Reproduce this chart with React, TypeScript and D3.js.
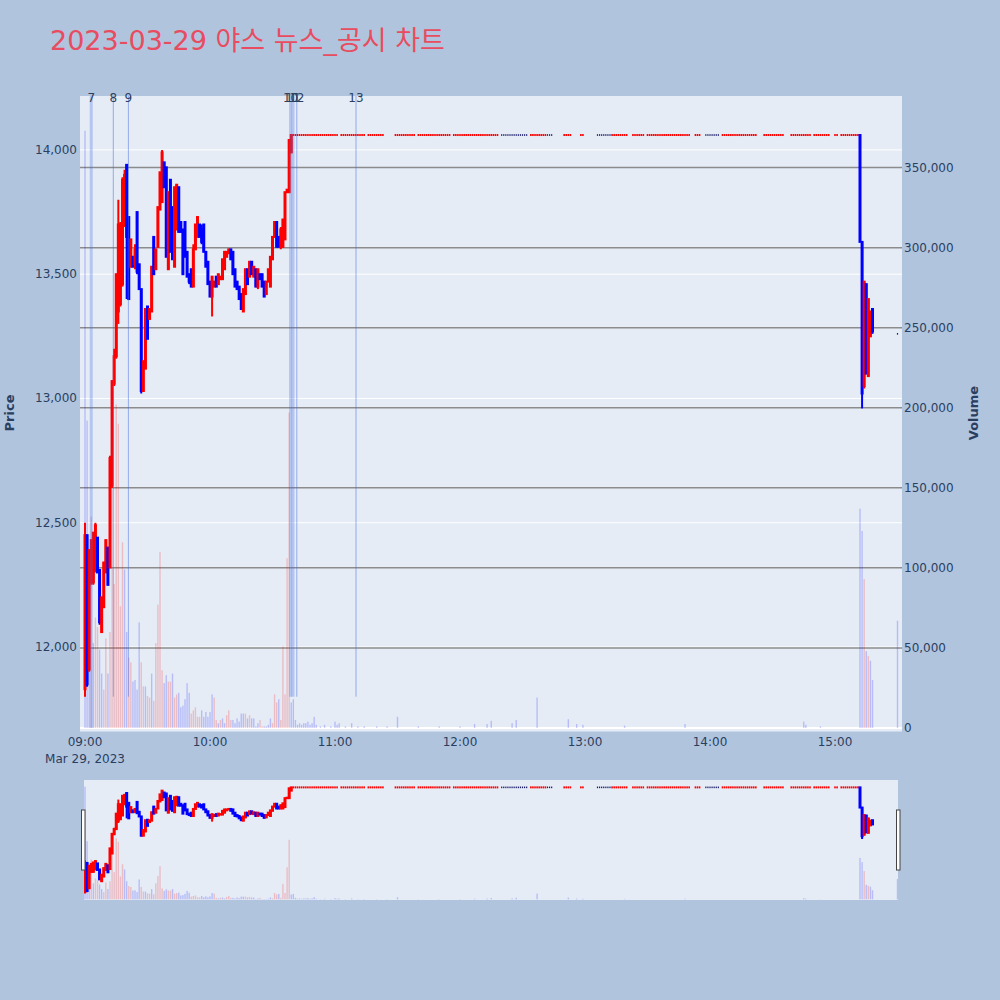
import React from "react";
import * as d3 from "d3";

// ---------------- DATA ----------------
const TITLE = "2023-03-29 야스 뉴스_공시 차트";
const DATE_LABEL = "Mar 29, 2023";

// 1-minute candles from 09:00, [open, high, low, close]
const morningOHLC: [number, number, number, number][] = [
  [11830, 12500, 11800, 12450], [12450, 12450, 11840, 11850], [11910, 12390, 11900, 12390],
  [12260, 12430, 12250, 12430], [12260, 12460, 12250, 12460], [12310, 12500, 12300, 12490],
  [12440, 12440, 12300, 12300], [12310, 12310, 12090, 12100], [12060, 12200, 12060, 12200],
  [12160, 12340, 12160, 12340], [12300, 12430, 12300, 12430], [12400, 12400, 12250, 12250],
  [12320, 12770, 12320, 12760], [12650, 13070, 12640, 13070], [13060, 13200, 13050, 13170],
  [13170, 13500, 13160, 13500], [13350, 13800, 13300, 13700], [13380, 13710, 13370, 13700],
  [13460, 13890, 13450, 13880], [13700, 13920, 13690, 13900], [13940, 13940, 13400, 13650],
  [13730, 13730, 13400, 13400], [13530, 13640, 13530, 13640], [13570, 13570, 13530, 13530],
  [13540, 13620, 13520, 13600], [13750, 13750, 13500, 13510], [13540, 13540, 13440, 13440],
  [13440, 13440, 13020, 13030], [13030, 13150, 13030, 13150], [13120, 13360, 13120, 13360],
  [13370, 13370, 13240, 13240], [13320, 13360, 13320, 13360], [13350, 13530, 13350, 13530],
  [13650, 13650, 13500, 13500], [13520, 13600, 13520, 13600], [13610, 13770, 13610, 13770],
  [13760, 13910, 13760, 13910], [13790, 14000, 13790, 13990], [13950, 13950, 13850, 13850],
  [13930, 13930, 13570, 13570], [13520, 13830, 13520, 13830], [13880, 13880, 13590, 13590],
  [13770, 13770, 13560, 13560], [13530, 13850, 13530, 13850], [13680, 13860, 13680, 13860],
  [13850, 13850, 13670, 13670], [13710, 13710, 13670, 13670], [13680, 13680, 13500, 13500],
  [13710, 13710, 13570, 13570], [13590, 13590, 13490, 13490], [13500, 13500, 13460, 13470],
  [13520, 13520, 13450, 13450], [13450, 13620, 13450, 13600], [13600, 13700, 13600, 13700],
  [13650, 13730, 13650, 13730], [13700, 13700, 13650, 13650], [13680, 13700, 13620, 13630],
  [13700, 13700, 13590, 13590], [13590, 13590, 13530, 13530], [13550, 13550, 13460, 13460],
  [13470, 13470, 13410, 13410], [13410, 13490, 13330, 13490], [13450, 13470, 13450, 13470],
  [13490, 13490, 13450, 13450], [13460, 13500, 13460, 13500], [13480, 13490, 13480, 13490],
  [13480, 13560, 13480, 13560], [13520, 13590, 13520, 13590], [13570, 13590, 13570, 13590],
  [13590, 13600, 13580, 13600], [13600, 13600, 13560, 13560], [13590, 13590, 13500, 13500],
  [13520, 13520, 13450, 13450], [13470, 13470, 13440, 13440], [13450, 13450, 13400, 13400],
  [13420, 13420, 13360, 13360], [13350, 13440, 13350, 13440], [13420, 13520, 13420, 13520],
  [13520, 13520, 13460, 13460], [13490, 13550, 13490, 13550], [13550, 13550, 13500, 13500],
  [13490, 13530, 13490, 13530], [13520, 13520, 13450, 13450], [13450, 13520, 13440, 13520],
  [13500, 13500, 13480, 13480], [13500, 13500, 13450, 13450], [13470, 13470, 13410, 13410],
  [13420, 13470, 13420, 13470], [13470, 13520, 13470, 13520], [13450, 13570, 13450, 13570],
  [13560, 13650, 13560, 13650], [13650, 13710, 13650, 13710], [13710, 13710, 13610, 13610],
  [13650, 13650, 13610, 13610], [13610, 13690, 13600, 13680], [13610, 13720, 13610, 13720],
  [13640, 13830, 13640, 13830], [13830, 13840, 13830, 13840], [13830, 14040, 13830, 14040],
  [13990, 14060, 13990, 14060],
];

// volume (thousands of shares) per minute from 09:00, and colour flag (1 = red, 0 = blue)
const morningVolume: number[] = [
  373, 192, 60, 132, 53, 69, 63, 49, 34, 24, 56, 34, 60, 149, 90, 202, 190, 76, 116, 99,
  60, 44, 41, 29, 30, 24, 66, 41, 26, 26, 20, 19, 34, 17, 53, 77, 110, 36, 28, 33,
  29, 29, 34, 19, 21, 22, 13, 14, 18, 28, 22, 9, 11, 13, 7, 7, 11, 7, 10, 7,
  10, 21, 19, 5, 3, 5, 6, 3, 8, 11, 5, 5, 3, 6, 4, 9, 9, 9, 6, 8,
  6, 6, 1, 3, 5, 1, 1, 1, 2, 6, 3, 21, 16, 18, 5, 51, 21, 106, 197, 16,
];
const morningVolumeUp: number[] = [
  0, 0, 0, 1, 0, 1, 1, 0, 0, 1, 1, 0, 1, 1, 1, 1, 1, 1, 1, 0,
  0, 1, 1, 0, 0, 0, 0, 1, 1, 0, 1, 1, 0, 1, 1, 1, 1, 1, 0, 0,
  1, 1, 0, 1, 1, 0, 0, 0, 0, 0, 0, 1, 1, 1, 1, 1, 0, 0, 0, 0,
  0, 0, 1, 1, 0, 1, 0, 0, 1, 1, 1, 0, 0, 0, 0, 0, 0, 1, 0, 1,
  0, 0, 0, 0, 1, 1, 0, 0, 0, 0, 1, 1, 1, 0, 1, 1, 1, 1, 1, 0,
];

// upper-limit price and the minutes (from 09:00) with trades at it: [from, to, red?]
const LIMIT_PRICE = 14060;
const limitSegments: [number, number, number][] = [
  [100, 121, 1], [123, 134, 1], [136, 143, 1], [149, 158, 1], [160, 175, 1], [177, 198, 1],
  [200, 212, 0], [214, 221, 1], [222, 224, 0], [230, 233, 1], [238, 239, 1], [246, 252, 0],
  [253, 260, 1], [263, 268, 1], [270, 276, 1], [277, 290, 1], [293, 295, 1], [298, 304, 0],
  [306, 317, 1], [318, 322, 1], [326, 335, 1], [339, 348, 1], [350, 357, 1], [360, 361, 1],
  [363, 371, 1],
];

// candles after the limit broke (from minute 372 = 15:12), [open, high, low, close]
const CLOSE_START = 372;
const closeOHLC: [number, number, number, number][] = [
  [14060, 14060, 13630, 13630], [13630, 13630, 12960, 13020], [13050, 13470, 13040, 13470],
  [13460, 13460, 13100, 13100], [13090, 13400, 13090, 13400], [13250, 13350, 13250, 13350],
  [13360, 13360, 13260, 13270],
];
const AUCTION_MINUTE = 390;
const AUCTION_PRICE = 13260;

// later volume bars: [minute, thousands, red?]
const lateVolume: [number, number, number][] = [
  [100, 18, 0], [101, 5, 0], [102, 2, 0], [103, 3, 0], [104, 2, 0], [105, 3, 0], [106, 3, 0],
  [107, 4, 0], [108, 2, 0], [109, 3, 0], [110, 7, 0], [111, 2, 0], [113, 1, 0], [115, 2, 0],
  [118, 1, 0], [120, 4, 0], [121, 2, 0], [122, 3, 0], [125, 1, 0], [128, 3, 0], [131, 1, 0],
  [134, 1, 0], [140, 1, 0], [145, 1, 0], [150, 7, 0], [160, 1, 0], [170, 1, 0], [180, 1, 0],
  [187, 2.5, 0], [193, 2.5, 0], [195, 4.5, 0], [205, 3, 0], [207, 5, 0], [217, 19, 0],
  [232, 5.5, 0], [236, 2.5, 0], [239, 2, 0], [259, 1.5, 0], [288, 2.5, 0], [345, 4, 0],
  [346, 2, 0], [353, 1, 0], [372, 137, 0], [373, 123, 0], [374, 93, 1], [375, 48, 0],
  [376, 45, 1], [377, 42, 0], [378, 30, 0], [390, 67, 0],
];

// news / disclosure markers
const newsLabels = ["7", "8", "9", "10", "11", "12", "13"];
const newsTimes = ["09:03:00", "09:13:35", "09:20:50", "10:38:40", "10:39:50", "10:41:40", "11:10:05"];
const newsWide = [1, 0, 0, 1, 1, 0, 0];

const priceTicks = [12000, 12500, 13000, 13500, 14000];
const volumeTicks = [0, 50000, 100000, 150000, 200000, 250000, 300000, 350000];
const timeTicks = ["09:00", "10:00", "11:00", "12:00", "13:00", "14:00", "15:00"];

// ---------------- HELPERS ----------------
const atMinute = (m: number) => new Date(2023, 2, 29, 9, 0, 0, 0).getTime() + m * 60000;
const parseHMS = (s: string) => {
  const [h, mi, se] = s.split(":").map(Number);
  return new Date(2023, 2, 29, h, mi, se || 0).getTime();
};

type Candle = { t: number; o: number; h: number; l: number; c: number; up: boolean };

function buildCandles(): Candle[] {
  const out: Candle[] = [];
  morningOHLC.forEach(([o, h, l, c], i) =>
    out.push({ t: atMinute(i), o, h, l, c, up: c >= o })
  );
  limitSegments.forEach(([a, b, up]) => {
    for (let m = a; m <= b; m++)
      out.push({ t: atMinute(m), o: LIMIT_PRICE, h: LIMIT_PRICE, l: LIMIT_PRICE, c: LIMIT_PRICE, up: !!up });
  });
  closeOHLC.forEach(([o, h, l, c], i) =>
    out.push({ t: atMinute(CLOSE_START + i), o, h, l, c, up: c > o })
  );
  out.push({ t: atMinute(AUCTION_MINUTE), o: AUCTION_PRICE, h: AUCTION_PRICE, l: AUCTION_PRICE, c: AUCTION_PRICE, up: false });
  return out;
}

type Bar = { t: number; v: number; up: boolean };
function buildBars(): Bar[] {
  const out: Bar[] = morningVolume.map((v, i) => ({ t: atMinute(i), v: v * 1000, up: morningVolumeUp[i] === 1 }));
  lateVolume.forEach(([m, v, up]) => out.push({ t: atMinute(m), v: v * 1000, up: up === 1 }));
  return out;
}

const FONT = "'DejaVu Sans', Verdana, sans-serif";
const AXIS_COLOR = "#2a3f5f";
const RED = "#ff0000";
const BLUE = "#0000ff";

// ---------------- COMPONENT ----------------
export default function App() {
  const candles = buildCandles();
  const bars = buildBars();

  const L = 80, R = 902, T = 96, B = 731.5;
  const x = d3.scaleTime().domain([atMinute(-2.4), atMinute(392.16)]).range([L, R]);
  const yP = d3.scaleLinear().domain([11660, 14217]).range([B, T]);
  const yV = d3.scaleLinear().domain([-2190, 394700]).range([B, T]);

  const ST = 780, SB = 900, SL = 84, SR = 898;
  const yPS = d3.scaleLinear().domain(yP.domain()).range([SB, ST]);
  const yVS = d3.scaleLinear().domain(yV.domain()).range([SB, ST]);

  const fmt = d3.format(",");

  const drawBars = (ys: d3.ScaleLinear<number, number>, key: string) =>
    bars.map((b, i) => {
      const cx = x(b.t);
      const y0 = ys(0);
      const y1 = ys(b.v);
      return (
        <rect
          key={key + i}
          x={cx - 0.7}
          y={y1}
          width={1.4}
          height={Math.max(0, y0 - y1)}
          fill={b.up ? RED : BLUE}
          fillOpacity={0.2}
        />
      );
    });

  const drawCandles = (ys: d3.ScaleLinear<number, number>, key: string) =>
    candles.map((c, i) => {
      const cx = x(c.t);
      const col = c.up ? RED : BLUE;
      if (c.h === c.l) {
        return c.up ? (
          <rect key={key + i} x={cx - 0.8} y={ys(c.c) - 1} width={1.6} height={2} fill={col} />
        ) : (
          <rect key={key + i} x={cx - 0.6} y={ys(c.c) - 0.8} width={1.2} height={1.6} fill="#1a1a66" />
        );
      }
      const top = ys(Math.max(c.o, c.c));
      const bot = ys(Math.min(c.o, c.c));
      return (
        <g key={key + i}>
          <line x1={cx} x2={cx} y1={ys(c.h)} y2={ys(c.l)} stroke={col} strokeWidth={2} />
          <rect x={cx - 0.5} y={top} width={1} height={Math.max(0.01, bot - top)} fill={col} stroke={col} strokeWidth={2} />
        </g>
      );
    });

  return (
    <svg width={1000} height={1000} style={{ position: "absolute", left: 0, top: 0, display: "block" }} fontFamily={FONT}>
      <defs>
        <clipPath id="plotClip">
          <rect x={L} y={T} width={R - L} height={B - T} />
        </clipPath>
        <clipPath id="sliderClip">
          <rect x={SL} y={ST} width={SR - SL} height={SB - ST} />
        </clipPath>
      </defs>
      <rect x={0} y={0} width={1000} height={1000} fill="#b0c4de" />

      {/* title */}
      <text x={50} y={50} fontSize={27} fill="#e84c60" fontFamily="'DejaVu Sans', 'Noto Sans CJK KR', sans-serif">
        {TITLE}
      </text>

      {/* plot area */}
      <rect x={L} y={T} width={R - L} height={B - T} fill="#e5ecf6" />
      {priceTicks.map((p) => (
        <line key={"pg" + p} x1={L} x2={R} y1={yP(p)} y2={yP(p)} stroke="#ffffff" strokeWidth={1} />
      ))}
      {volumeTicks.filter((v) => v > 0).map((v) => (
        <line key={"vg" + v} x1={L} x2={R} y1={yV(v)} y2={yV(v)} stroke="#8c8c8c" strokeWidth={1.5} />
      ))}
      <line x1={L} x2={R} y1={yV(0)} y2={yV(0)} stroke="#ffffff" strokeWidth={2} />

      <g clipPath="url(#plotClip)">
        {drawBars(yV, "vb")}
        {drawCandles(yP, "cd")}
        {newsTimes.map((s, i) => {
          const cx = x(parseHMS(s));
          const wide = newsWide[i] === 1;
          return (
            <line
              key={"nl" + i}
              x1={cx}
              x2={cx}
              y1={T}
              y2={i === 0 ? yV(0) : yP(11800)}
              stroke="royalblue"
              strokeOpacity={wide ? 0.3 : 0.5}
              strokeWidth={wide ? 3 : 1}
            />
          );
        })}
      </g>
      {newsTimes.map((s, i) => (
        <text key={"nt" + i} x={x(parseHMS(s))} y={102} fontSize={12} textAnchor="middle" fill={AXIS_COLOR}>
          {newsLabels[i]}
        </text>
      ))}

      {/* left axis */}
      {priceTicks.map((p) => (
        <text key={"pt" + p} x={77} y={yP(p) + 4} fontSize={12} textAnchor="end" fill={AXIS_COLOR}>
          {fmt(p)}
        </text>
      ))}
      <text x={14} y={413} fontSize={13} fontWeight="bold" textAnchor="middle" fill={AXIS_COLOR} transform="rotate(-90,14,413)">
        Price
      </text>

      {/* right axis */}
      {volumeTicks.map((v) => (
        <text key={"vt" + v} x={904} y={yV(v) + 4} fontSize={12} textAnchor="start" fill={AXIS_COLOR}>
          {fmt(v)}
        </text>
      ))}
      <text x={978} y={413} fontSize={13} fontWeight="bold" textAnchor="middle" fill={AXIS_COLOR} transform="rotate(-90,978,413)">
        Volume
      </text>

      {/* x axis */}
      {timeTicks.map((s, i) => {
        const cx = x(parseHMS(s + ":00"));
        return (
          <g key={"xt" + s}>
            <text x={cx} y={746} fontSize={12} textAnchor="middle" fill={AXIS_COLOR}>
              {s}
            </text>
            {i === 0 && (
              <text x={cx} y={763} fontSize={12} textAnchor="middle" fill={AXIS_COLOR}>
                {DATE_LABEL}
              </text>
            )}
          </g>
        );
      })}

      {/* range slider */}
      <rect x={SL} y={ST} width={SR - SL} height={SB - ST} fill="#e5ecf6" />
      <g clipPath="url(#sliderClip)">
        {drawBars(yVS, "svb")}
        {drawCandles(yPS, "scd")}
      </g>
      <rect x={81.5} y={810} width={3.5} height={60} fill="#ffffff" stroke="#444" strokeWidth={1} />
      <rect x={896.5} y={810} width={3.5} height={60} fill="#ffffff" stroke="#444" strokeWidth={1} />
    </svg>
  );
}
